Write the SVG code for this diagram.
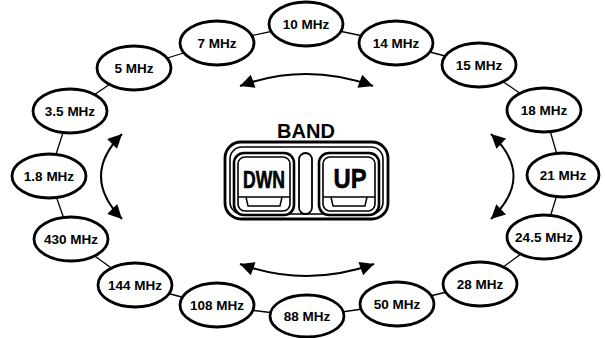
<svg xmlns="http://www.w3.org/2000/svg" width="605" height="338" viewBox="0 0 605 338">
<style>
.band ellipse{fill:#fff;stroke:#000;stroke-width:2.8}
.band text{font-family:"Liberation Sans",Arial,sans-serif;font-weight:bold;font-size:13.5px;text-anchor:middle;fill:#000}
.conn line{stroke:#000;stroke-width:1.3}
.arr path{fill:none;stroke:#000;stroke-width:2}
.frame{fill:#fff;stroke:#000}
.lbl{font-family:"Liberation Sans",Arial,sans-serif;font-weight:bold;text-anchor:middle;fill:#000}
</style>
<defs>
<marker id="ah" viewBox="0 0 10 10" refX="10" refY="5" markerWidth="18" markerHeight="14" markerUnits="userSpaceOnUse" orient="auto-start-reverse">
<path d="M0,0 L10,5 L0,10 z" fill="#000"/>
</marker>
</defs>
<rect width="605" height="338" fill="#fff"/>
<g id="connectors" class="conn">
<line x1="217" y1="43" x2="306" y2="24"/>
<line x1="306" y1="24" x2="396" y2="43"/>
<line x1="396" y1="43" x2="479" y2="65"/>
<line x1="479" y1="65" x2="544" y2="110"/>
<line x1="544" y1="110" x2="563" y2="175"/>
<line x1="563" y1="175" x2="544" y2="237"/>
<line x1="544" y1="237" x2="480" y2="284"/>
<line x1="480" y1="284" x2="397" y2="304"/>
<line x1="397" y1="304" x2="307" y2="317"/>
<line x1="307" y1="317" x2="217" y2="306"/>
<line x1="217" y1="306" x2="135" y2="285"/>
<line x1="135" y1="285" x2="71" y2="239"/>
<line x1="71" y1="239" x2="49" y2="176"/>
<line x1="49" y1="176" x2="70" y2="111"/>
<line x1="70" y1="111" x2="134" y2="68"/>
<line x1="134" y1="68" x2="217" y2="43"/>
</g>
<g id="arrows" class="arr">
<path d="M240 86 Q306 62 373 86" marker-start="url(#ah)" marker-end="url(#ah)"/>
<path d="M240 264 Q306 288 374 264" marker-start="url(#ah)" marker-end="url(#ah)"/>
<path d="M122 134 Q80 176 122 219" marker-start="url(#ah)" marker-end="url(#ah)"/>
<path d="M491 134 Q536 176 491 219" marker-start="url(#ah)" marker-end="url(#ah)"/>
</g>
<g id="n10" class="band"><ellipse cx="306" cy="24" rx="37" ry="22"/><text x="306" y="29">10 MHz</text></g>
<g id="n14" class="band"><ellipse cx="396" cy="43" rx="37" ry="22"/><text x="396" y="48">14 MHz</text></g>
<g id="n15" class="band"><ellipse cx="479" cy="65" rx="37" ry="22"/><text x="479" y="70">15 MHz</text></g>
<g id="n18" class="band"><ellipse cx="544" cy="110" rx="37" ry="22"/><text x="544" y="115">18 MHz</text></g>
<g id="n21" class="band"><ellipse cx="563" cy="175" rx="36" ry="22"/><text x="563" y="180">21 MHz</text></g>
<g id="n245" class="band"><ellipse cx="544" cy="237" rx="37" ry="22"/><text x="544" y="242">24.5 MHz</text></g>
<g id="n28" class="band"><ellipse cx="480" cy="284" rx="37" ry="22"/><text x="480" y="289">28 MHz</text></g>
<g id="n50" class="band"><ellipse cx="397" cy="304" rx="37" ry="22"/><text x="397" y="309">50 MHz</text></g>
<g id="n88" class="band"><ellipse cx="307" cy="316" rx="37" ry="21"/><text x="307" y="321">88 MHz</text></g>
<g id="n108" class="band"><ellipse cx="217" cy="305" rx="37" ry="22"/><text x="217" y="310">108 MHz</text></g>
<g id="n144" class="band"><ellipse cx="135" cy="285" rx="37" ry="22"/><text x="135" y="290">144 MHz</text></g>
<g id="n430" class="band"><ellipse cx="71" cy="239" rx="37" ry="22"/><text x="71" y="244">430 MHz</text></g>
<g id="n18m" class="band"><ellipse cx="49" cy="176" rx="37" ry="22"/><text x="49" y="181">1.8 MHz</text></g>
<g id="n35" class="band"><ellipse cx="70" cy="111" rx="37" ry="22"/><text x="70" y="116">3.5 MHz</text></g>
<g id="n5" class="band"><ellipse cx="134" cy="68" rx="37" ry="22"/><text x="134" y="73">5 MHz</text></g>
<g id="n7" class="band"><ellipse cx="217" cy="43" rx="37" ry="22"/><text x="217" y="48">7 MHz</text></g>
<g id="bandkey">
<text class="lbl" x="306" y="138" font-size="20">BAND</text>
<rect class="frame" x="225" y="142" width="163" height="77" rx="16" stroke-width="2.8"/>
<rect class="frame" x="230" y="147" width="153" height="67" rx="12" stroke-width="1.6"/>
<rect class="frame" x="299" y="153" width="13" height="61" rx="6.5" stroke-width="1.8"/>
<g id="dwn">
<rect class="frame" x="234" y="153" width="60" height="62" rx="10" stroke-width="2.6"/>
<rect class="frame" x="238" y="157" width="52" height="54" rx="7" stroke-width="1.6"/>
<line x1="238" y1="197" x2="290" y2="197" stroke="#000" stroke-width="1.5"/>
<path d="M246 197 L248 206 L280 206 L282 197" fill="none" stroke="#000" stroke-width="1.5"/>
<text class="lbl" x="264" y="188" font-size="24" textLength="42" lengthAdjust="spacingAndGlyphs" stroke="#000" stroke-width="0.6">DWN</text>
</g>
<g id="up">
<rect class="frame" x="319" y="153" width="60" height="62" rx="10" stroke-width="2.6"/>
<rect class="frame" x="323" y="157" width="52" height="54" rx="7" stroke-width="1.6"/>
<line x1="323" y1="197" x2="375" y2="197" stroke="#000" stroke-width="1.5"/>
<path d="M331 197 L333 206 L365 206 L367 197" fill="none" stroke="#000" stroke-width="1.5"/>
<text class="lbl" x="350" y="188" font-size="28" textLength="33" lengthAdjust="spacingAndGlyphs" stroke="#000" stroke-width="0.6">UP</text>
</g>
</g>
</svg>
